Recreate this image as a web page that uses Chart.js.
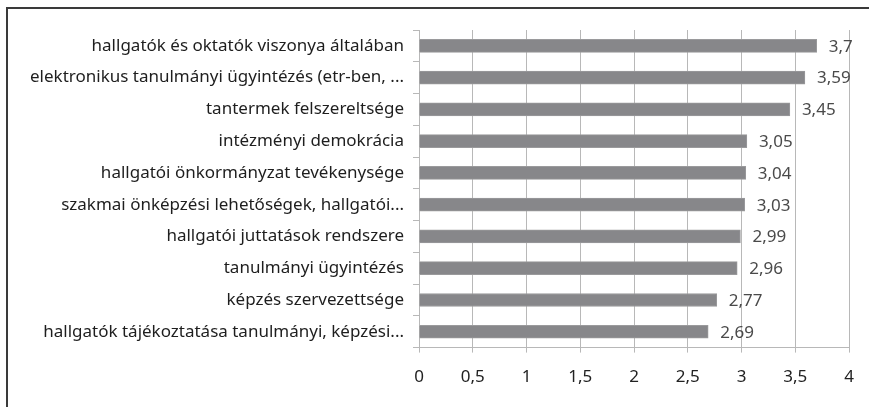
<!DOCTYPE html>
<html>
<head>
<meta charset="utf-8">
<script src="https://cdn.jsdelivr.net/npm/chart.js@4"></script>
<style>
  html, body { margin: 0; padding: 0; background: #fff; }
  #wrap { position: relative; width: 869px; height: 407px; }
  #frame {
    position: absolute; left: 6px; top: 7px; right: -4px; bottom: -4px;
    border-left: 2px solid #3a3a3a; border-top: 2px solid #3a3a3a;
  }
  canvas { position: absolute; left: 0; top: 0; }
</style>
</head>
<body>
<div id="wrap">
  <div id="frame"></div>
  <canvas id="chart" width="869" height="407"></canvas>
</div>
<script>
const categories = [
  'hallgatók és oktatók viszonya általában',
  'elektronikus tanulmányi ügyintézés (etr-ben, ...',
  'tantermek felszereltsége',
  'intézményi demokrácia',
  'hallgatói önkormányzat tevékenysége',
  'szakmai önképzési lehetőségek, hallgatói...',
  'hallgatói juttatások rendszere',
  'tanulmányi ügyintézés',
  'képzés szervezettsége',
  'hallgatók tájékoztatása tanulmányi, képzési...'
];
const values = [3.7, 3.59, 3.45, 3.05, 3.04, 3.03, 2.99, 2.96, 2.77, 2.69];
const xTicks = [0, 0.5, 1, 1.5, 2, 2.5, 3, 3.5, 4];

const fmt = v => String(v).replace('.', ',');

// value labels right of each bar
const valueLabels = {
  id: 'valueLabels',
  afterDatasetsDraw(chart) {
    const ctx = chart.ctx;
    const meta = chart.getDatasetMeta(0);
    ctx.save();
    ctx.font = '17px "Noto Sans"';
    ctx.fillStyle = '#4a4a4a';
    ctx.textAlign = 'left';
    ctx.textBaseline = 'middle';
    meta.data.forEach((bar, i) => {
      ctx.fillText(fmt(values[i]), bar.x + 12, bar.y + 1);
    });
    ctx.restore();
  }
};

new Chart(document.getElementById('chart'), {
  type: 'bar',
  data: {
    labels: categories,
    datasets: [{
      data: values,
      backgroundColor: '#87878a',
      borderColor: '#9a9a9c',
      borderWidth: 1,
      barThickness: 13
    }]
  },
  options: {
    indexAxis: 'y',
    responsive: false,
    animation: false,
    layout: { padding: { left: 0, right: 20, top: 30, bottom: 6 } },
    plugins: { legend: { display: false }, tooltip: { enabled: false } },
    scales: {
      x: {
        min: 0,
        max: 4,
        afterBuildTicks: axis => { axis.ticks = xTicks.map(v => ({ value: v })); },
        grid: { color: '#b8b8b8', lineWidth: 1, tickLength: 5 },
        border: { color: '#b8b8b8' },
        ticks: {
          color: '#222',
          font: { family: 'Noto Sans', size: 17 },
          padding: 14,
          maxRotation: 0,
          callback: v => fmt(v)
        }
      },
      y: {
        afterFit: axis => { axis.width = 419; },
        grid: { display: true, drawOnChartArea: false, offset: true, color: '#b8b8b8', tickLength: 6 },
        border: { color: '#b8b8b8' },
        ticks: {
          color: '#1e1e1e',
          font: { family: 'Noto Sans', size: 17 },
          padding: 9,
          autoSkip: false
        }
      }
    }
  },
  plugins: [valueLabels]
});
</script>
</body>
</html>
